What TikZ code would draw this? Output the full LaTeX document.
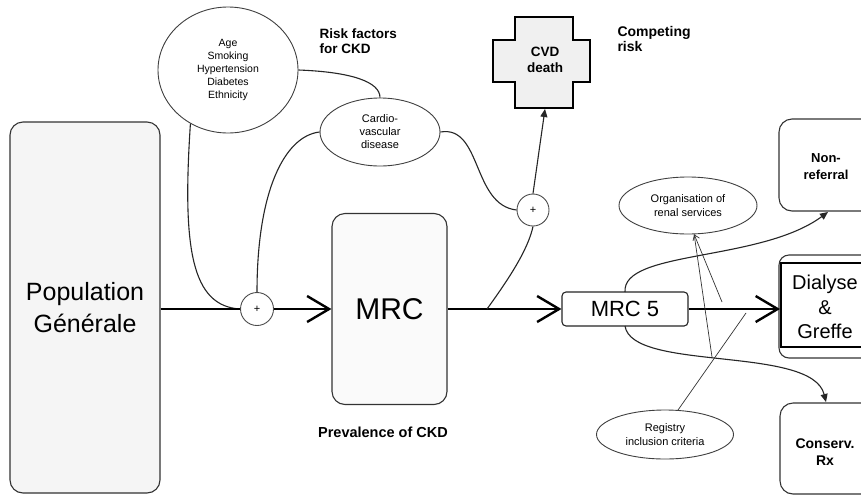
\documentclass[tikz,border=0pt]{standalone}
\usepackage{fontspec}
\setmainfont{Liberation Sans}
\usetikzlibrary{arrows.meta,shapes.geometric}
\begin{document}
\begin{tikzpicture}[x=1pt,y=-1pt,
  bigbox/.style={draw=black!80,line width=1.1pt,rounded corners=13pt,fill=black!4},
  thin/.style={draw=black!85,line width=1.1pt},
  main/.style={draw=black,line width=2.6pt},
  openhead/.style={-{Straight Barb[length=22pt,width=26pt,line width=2.4pt]}},
  fillhead/.style={-{Triangle[length=8pt,width=7pt]}},
  ell/.style={ellipse,draw=black!75,line width=0.9pt,fill=white,inner sep=0pt,align=center},
  plusc/.style={circle,draw=black!70,line width=0.9pt,fill=white,minimum size=33pt,inner sep=0pt,font=\fontsize{11}{11}\selectfont},
  lbl/.style={font=\bfseries\fontsize{13.5}{15}\selectfont,align=left,anchor=north west}]
\useasboundingbox (0,0) rectangle (861,496);
\clip (0,0) rectangle (861,496);
\fill[white] (0,0) rectangle (861,496);

% boxes
\node[bigbox,minimum width=150pt,minimum height=371pt,inner sep=0pt,font=\fontsize{25}{32}\selectfont,align=center] (pop) at (85,307.5) {Population\\Générale};
\node[bigbox,fill=black!2,minimum width=115pt,minimum height=191pt,inner sep=0pt,font=\fontsize{30}{32}\selectfont] (mrc) at (389.5,309) {MRC};
\node[draw=black!85,line width=1.1pt,rounded corners=4pt,fill=white,minimum width=126pt,minimum height=34pt,inner sep=0pt,font=\fontsize{22}{24}\selectfont] (mrc5) at (625,309) {MRC 5};

% right boxes (cut by the right edge)
\draw[bigbox,fill=white] (779,119) rectangle (895,211);
\node[font=\bfseries\fontsize{13}{17}\selectfont,align=center] (nonref) at (826,167) {Non-\\referral};
\draw[draw=black!80,line width=1.1pt,rounded corners=10pt,fill=white] (779,255) rectangle (895,358);
\draw[line width=2.4pt] (895,263) -- (781,263) -- (781,347) -- (895,347);
\node[font=\fontsize{20}{24.5}\selectfont,align=center] (dial) at (825,307) {Dialyse\\\&\\Greffe};
\coordinate (dialw) at (780,309);
\draw[bigbox,fill=white] (780,403) rectangle (895,494);
\node[font=\bfseries\fontsize{14}{17}\selectfont,align=center] (cons) at (825,452) {Conserv.\\Rx};
\coordinate (nonrefb) at (828,212);
\coordinate (consn) at (826,402);

% cross
\draw[draw=black,line width=2.2pt,fill=black!6]
  (515,17) -- (573,17) -- (573,40) -- (590,40) -- (590,82) -- (573,82) -- (573,108)
  -- (515,108) -- (515,82) -- (493,82) -- (493,40) -- (515,40) -- cycle;
\node[font=\bfseries\fontsize{13.5}{16}\selectfont,align=center] (cvd) at (545,60) {CVD\\death};
\coordinate (cvds) at (545,109);

% ellipses
\node[ell,minimum width=140pt,minimum height=126pt,font=\fontsize{10.5}{13}\selectfont] (risk) at (228,70) {Age\\Smoking\\Hypertension\\Diabetes\\Ethnicity};
\node[ell,minimum width=120pt,minimum height=68pt,font=\fontsize{11}{13}\selectfont] (cardio) at (380,132) {Cardio-\\vascular\\disease};
\node[ell,minimum width=138pt,minimum height=57pt,font=\fontsize{11}{14}\selectfont] (org) at (688,205.5) {Organisation of\\renal services};
\node[ell,minimum width=137pt,minimum height=49pt,font=\fontsize{11}{13.5}\selectfont] (reg) at (665,434.5) {Registry\\inclusion criteria};

% labels
\node[lbl] (rflbl) at (316,25) {Risk factors\\for CKD};
\node[lbl,font=\bfseries\fontsize{14}{15}\selectfont] (crlbl) at (614,23) {Competing\\risk};
\node[font=\bfseries\fontsize{14.5}{16}\selectfont] (prev) at (383,432) {Prevalence of CKD};

% plus circles
\node[plusc] (p1) at (257,309) {+};
\node[plusc,minimum size=32pt] (p2) at (533,210) {+};

% curves into the first +
\draw[thin] (risk.235) .. controls (182,250) and (192,306) .. (p1.west);
\draw[thin] (cardio.west) .. controls (285,136) and (257,190) .. (p1.north);
\draw[thin] (risk.east) .. controls (352,72) and (380,82) .. (cardio.north);
\draw[thin] (cardio.east) .. controls (482,125) and (472,205) .. (p2.west);

% main flow
\draw[main] (pop.east |- p1.west) -- (p1.west);
\draw[main,openhead] (p1.east) -- (mrc.west);
\coordinate (br) at (487,309);
\draw[main,openhead] (mrc.east) -- (mrc5.west);
\draw[thin] (br) .. controls (508,280) and (528,250) .. (p2.south);
\draw[thin,fillhead] (p2.north) -- (cvds);
\draw[main,openhead] (mrc5.east) -- (dialw);

% branches from MRC 5
\draw[thin,fillhead] (625,292) .. controls (622,250) and (760,262) .. (nonrefb);
\draw[thin,fillhead] (625,326) .. controls (632,372) and (812,345) .. (consn);

% influence lines
\coordinate (o1) at (712,357);
\coordinate (o2) at (722,302);
\coordinate (r1) at (746,313);
\draw[line width=0.7pt,draw=black!80] (o1) -- (org.-78);
\draw[line width=0.7pt,draw=black!80,-{Straight Barb[length=5pt,width=7pt,line width=0.7pt]}] (o2) -- (org.-78);
\draw[line width=0.7pt,draw=black!80] (reg.62) -- (r1);
\end{tikzpicture}
\end{document}
